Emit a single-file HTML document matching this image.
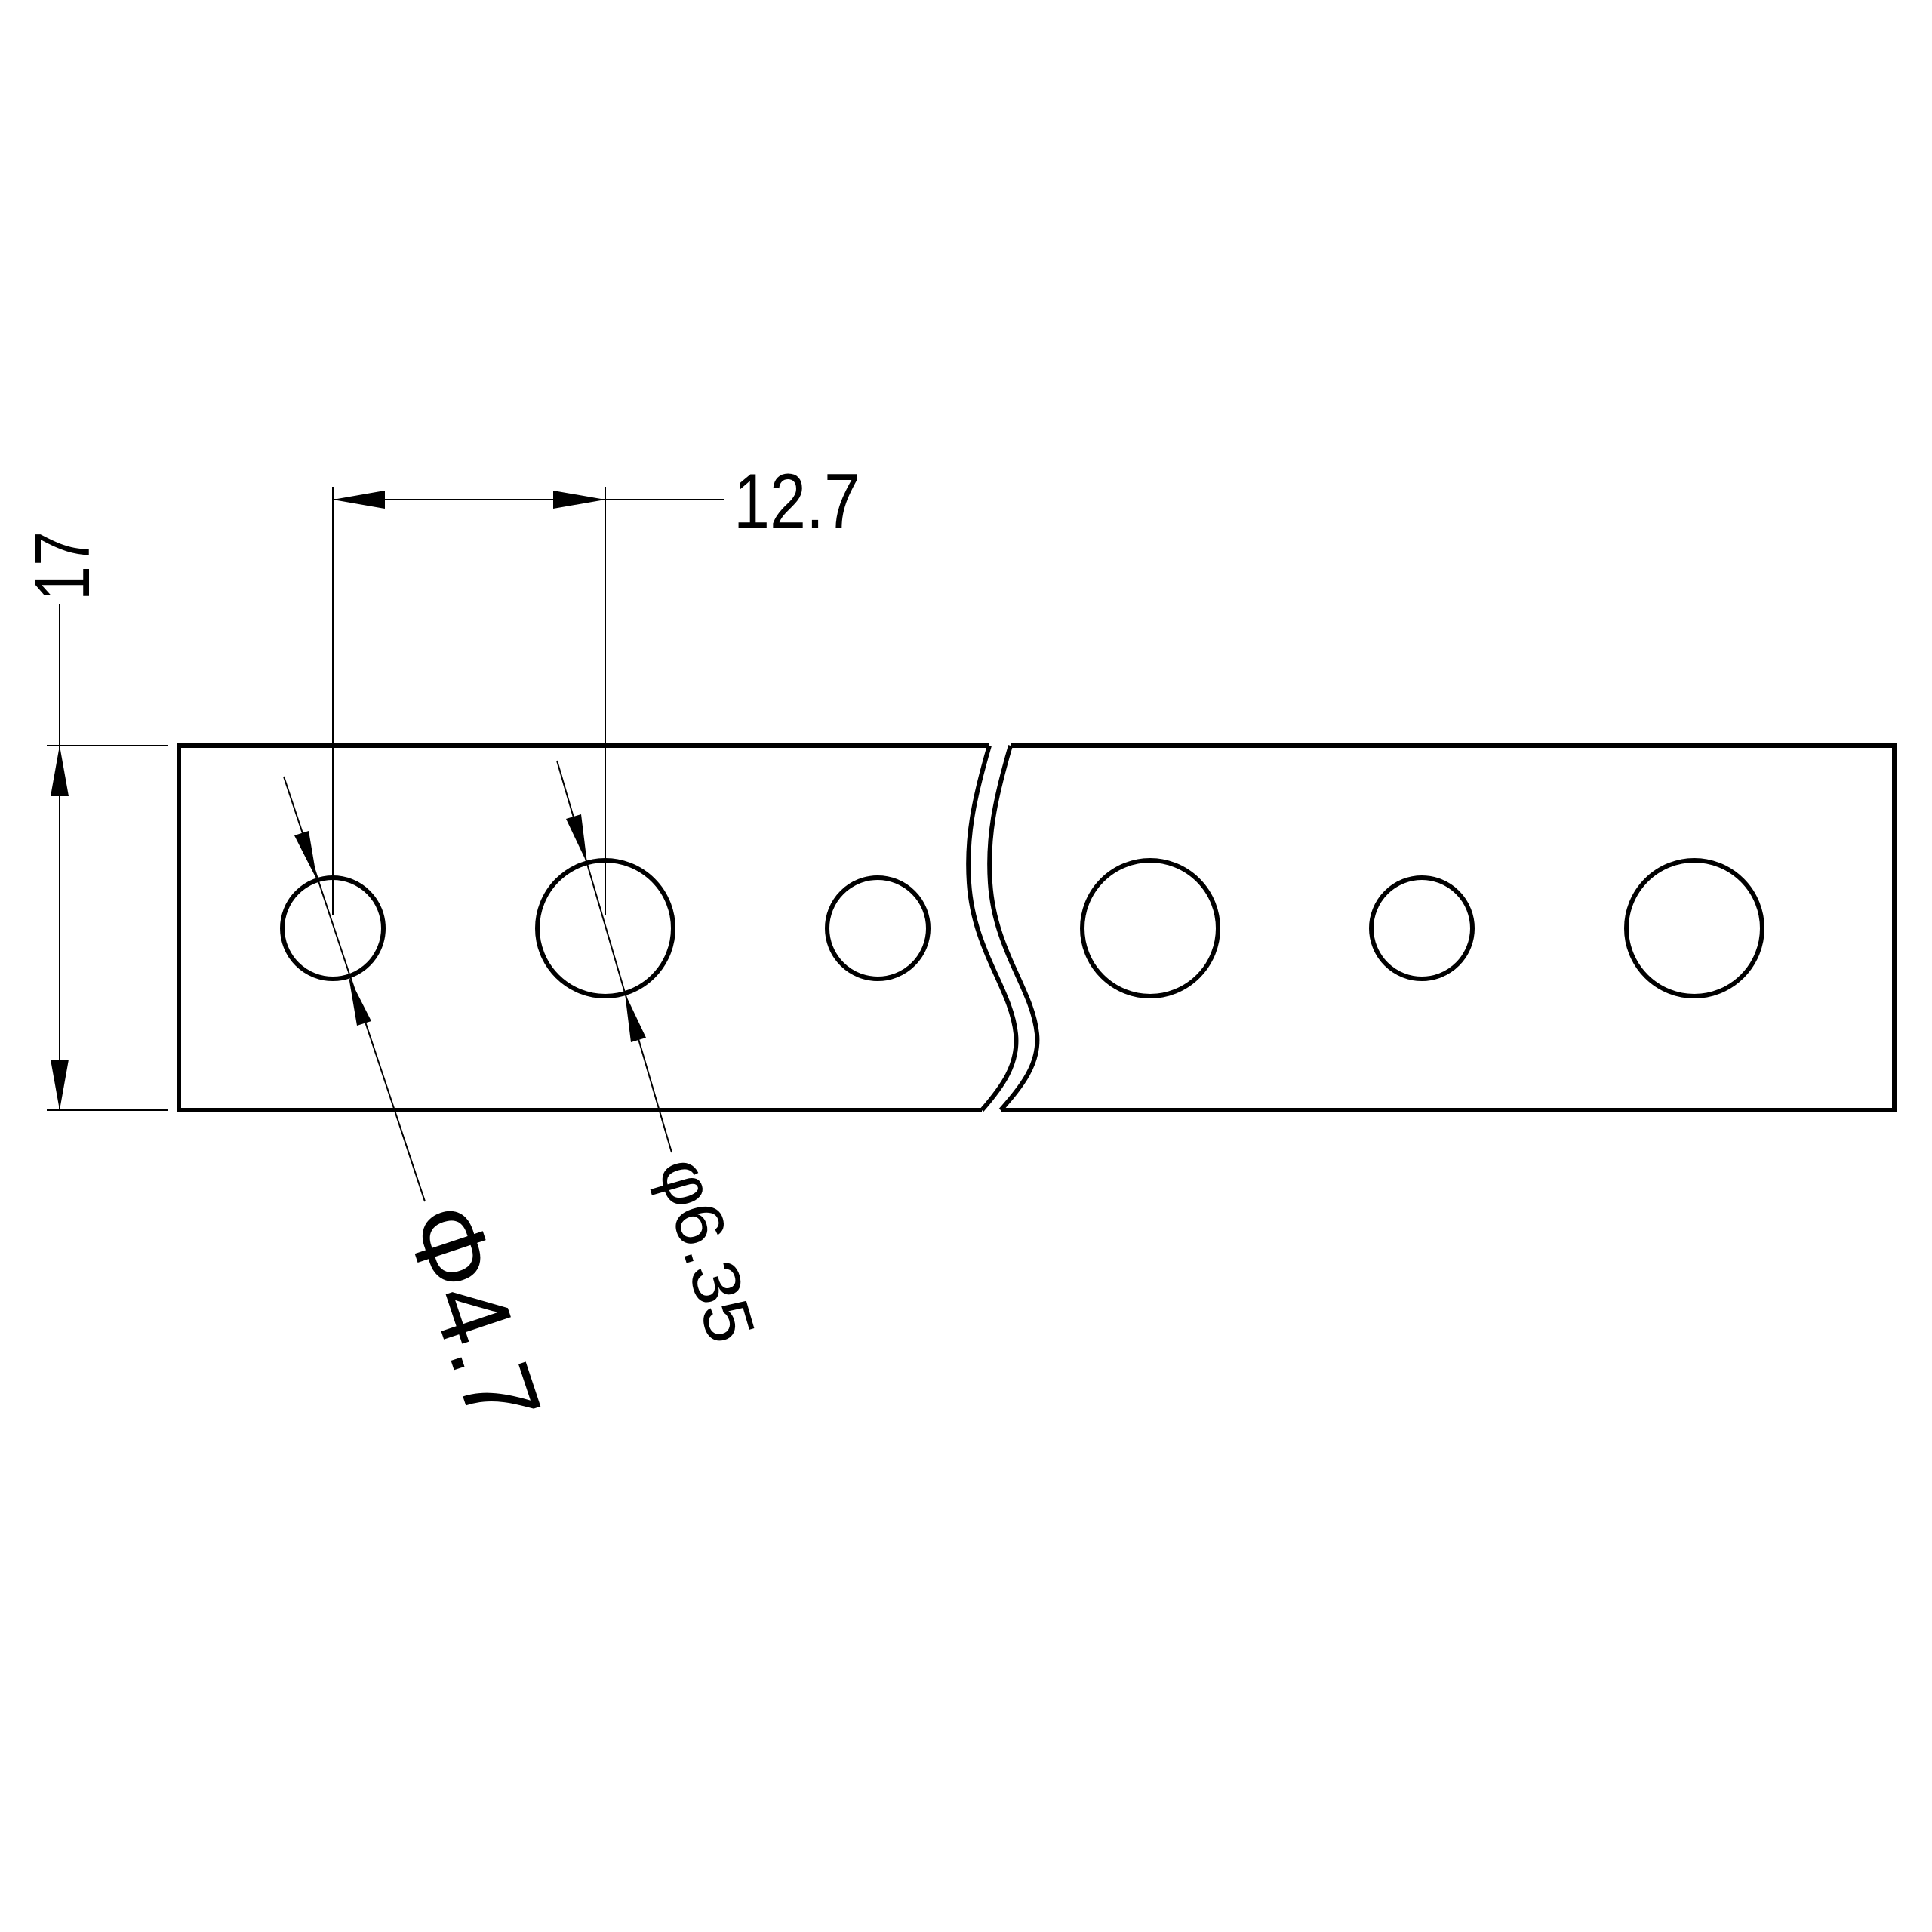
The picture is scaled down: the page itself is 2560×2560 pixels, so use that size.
<!DOCTYPE html>
<html><head><style>html,body{margin:0;padding:0;background:#fff}svg{display:block}</style></head>
<body>
<svg width="2560" height="2560" viewBox="0 0 2560 2560" xmlns="http://www.w3.org/2000/svg">
<rect width="2560" height="2560" fill="#fff"/>
<g fill="none" stroke="#000" stroke-width="6" stroke-linejoin="miter">
  <path d="M1311,988 L237,988 L237,1471 L1301,1471"/>
  <path d="M1339,988 L2510,988 L2510,1471 L1326,1471"/>
  <path d="M1311,988 C1290,1060 1280,1110 1284,1170 C1290,1260 1340,1310 1346,1370 C1350,1410 1328,1440 1301,1471"/>
  <path d="M1339,988 C1318,1060 1308,1110 1312,1170 C1318,1260 1368,1310 1374,1370 C1378,1410 1353,1440 1326,1471"/>
  <circle cx="441" cy="1230" r="67"/>
  <circle cx="802" cy="1230" r="90"/>
  <circle cx="1163" cy="1230" r="67"/>
  <circle cx="1524" cy="1230" r="90"/>
  <circle cx="1884" cy="1230" r="67"/>
  <circle cx="2245" cy="1230" r="90"/>
</g>
<g stroke="#000" stroke-width="2" fill="none">
  <line x1="441" y1="645" x2="441" y2="1212"/>
  <line x1="802" y1="645" x2="802" y2="1212"/>
  <line x1="441" y1="662" x2="959" y2="662"/>
  <line x1="62" y1="988" x2="222" y2="988"/>
  <line x1="62" y1="1471" x2="222" y2="1471"/>
  <line x1="79" y1="800" x2="79" y2="1471"/>
  <line x1="376" y1="1029" x2="563" y2="1592"/>
  <line x1="738" y1="1008" x2="890" y2="1527"/>
</g>
<g fill="#000">
  <polygon points="441,662 510,650 510,674"/>
  <polygon points="802,662 733,650 733,674"/>
  <polygon points="79,988 67,1055 91,1055"/>
  <polygon points="79,1471 67,1404 91,1404"/>
  <polygon points="420,1166 409,1101 390,1107"/>
  <polygon points="462,1294 492,1353 473,1359"/>
  <polygon points="778,1144 770,1079 750,1085"/>
  <polygon points="828,1316 856,1375 836,1381"/>
</g>
<g font-family="'Liberation Sans Narrow', 'Liberation Sans', 'DejaVu Sans', sans-serif" fill="#000">
  <text x="972" y="700" font-size="104" textLength="168" lengthAdjust="spacingAndGlyphs">12.7</text>
  <text transform="translate(118,796) rotate(-90)" font-size="104" textLength="92" lengthAdjust="spacingAndGlyphs">17</text>
  <text transform="translate(872,1545) rotate(73.7)" font-size="90" textLength="250" lengthAdjust="spacingAndGlyphs">φ6.35</text>
  <text transform="translate(535,1615) rotate(71.6)" font-size="136" textLength="300" lengthAdjust="spacingAndGlyphs">Φ4.7</text>
</g>
</svg>
</body></html>
